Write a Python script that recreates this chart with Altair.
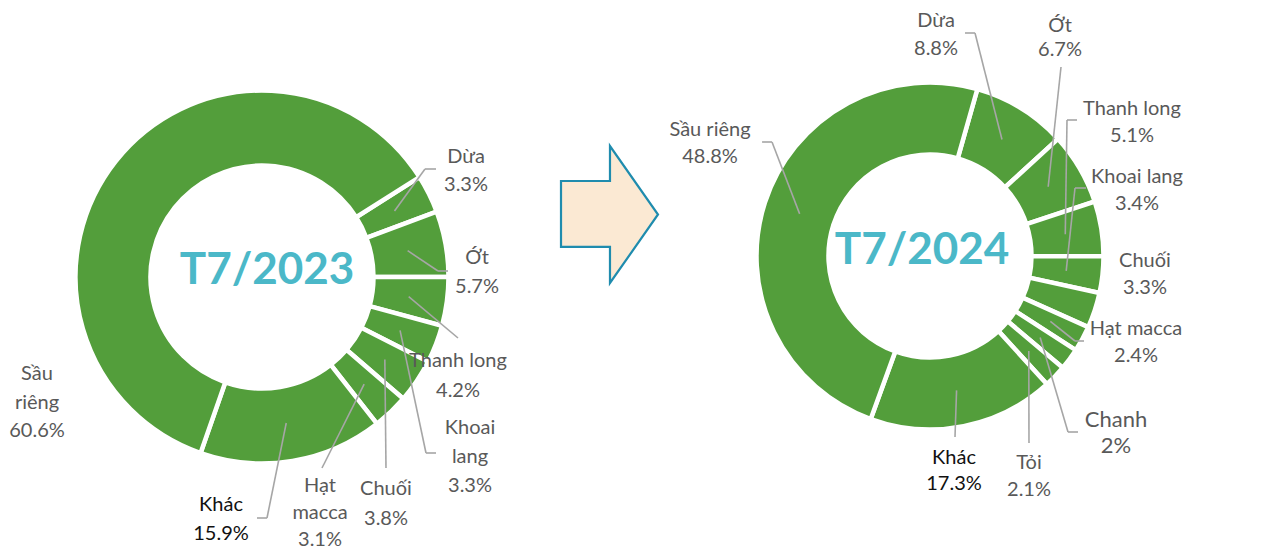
import math
import altair as alt
import pandas as pd

# ---------------- data ----------------
cats_2023 = ["Dừa", "Ớt", "Thanh long", "Khoai lang", "Chuối", "Hạt macca", "Khác", "Sầu riêng"]
vals_2023 = [3.3, 5.7, 4.2, 3.3, 3.8, 3.1, 15.9, 60.6]
name_lines_2023 = [["Dừa"], ["Ớt"], ["Thanh long"], ["Khoai", "lang"], ["Chuối"],
                   ["Hạt", "macca"], ["Khác"], ["Sầu", "riêng"]]

cats_2024 = ["Dừa", "Ớt", "Thanh long", "Khoai lang", "Chuối", "Hạt macca", "Chanh", "Tỏi", "Khác", "Sầu riêng"]
vals_2024 = [8.8, 6.7, 5.1, 3.4, 3.3, 2.4, 2.0, 2.1, 17.3, 48.8]
name_lines_2024 = [["Dừa"], ["Ớt"], ["Thanh long"], ["Khoai lang"], ["Chuối"],
                   ["Hạt macca"], ["Chanh"], ["Tỏi"], ["Khác"], ["Sầu riêng"]]

titles = ["T7/2023", "T7/2024"]

# ---------------- layout (page pixels) ----------------
OFF = 8
W, H = 1246, 544
GREEN = "#539E3B"
TEAL = "#4BB8C8"
GREY_TXT = "#595959"
GREY_LINE = "#A6A6A6"
FONT = "Lato"
FS = 20

donuts = [
    dict(cx=262, cy=277, r_out=186.5, r_in=111.5, r_mid=148, start_deg=57.6,
         title_xy=(267, 271)),
    dict(cx=930, cy=256, r_out=173.5, r_in=101.5, r_mid=137, start_deg=15.84,
         title_xy=(922, 251)),
]

# label layout: text x, first line y, line step, elbow (ex,ey), end (hx,hy), font size
lab_2023 = {
    "Dừa": (466, 157, 28, (425, 169), (436, 169), FS),
    "Ớt": (477, 258, 29, (438, 271), (448, 271), FS),
    "Thanh long": (458, 361, 30, (458, 338), None, FS),
    "Khoai lang": (470, 428, 29, (426, 453), (436, 453), FS),
    "Chuối": (386, 489, 30, (386, 468), None, FS),
    "Hạt macca": (320, 486, 27, (322, 468), None, FS),
    "Khác": (221, 505, 28.5, (267, 518), (257, 518), FS),
    "Sầu riêng": (37, 374, 28.5, None, None, FS),
}
lab_2024 = {
    "Dừa": (936, 21, 28, (975, 33), (965, 33), FS),
    "Ớt": (1060, 26, 24, (1061, 67), None, FS),
    "Thanh long": (1132, 109, 27, (1067, 120), (1077, 120), FS),
    "Khoai lang": (1137, 177, 27, (1075, 188), (1086, 188), FS),
    "Chuối": (1145, 261, 27, None, None, FS),
    "Hạt macca": (1136, 329, 27, (1075, 341), (1084, 341), FS),
    "Chanh": (1116, 420, 26, (1068, 432), (1078, 432), 22),
    "Tỏi": (1029, 463, 27, (1029, 443), None, FS),
    "Khác": (954, 458, 26, (955, 437), None, FS),
    "Sầu riêng": (710, 130, 27, (772, 142), (762, 142), FS),
}


def pct(v):
    s = f"{v:.1f}"
    if s.endswith(".0"):
        s = s[:-2]
    return s + "%"


layers = []
sets = [(cats_2023, vals_2023, name_lines_2023, lab_2023),
        (cats_2024, vals_2024, name_lines_2024, lab_2024)]

for (cats, vals, names, lab), d, title in zip(sets, donuts, titles):
    cx, cy = d["cx"] - OFF, d["cy"] - OFF
    a0 = math.radians(d["start_deg"])

    slices = pd.DataFrame({"cat": cats, "value": vals, "order": list(range(len(cats)))})

    arcs = alt.Chart(slices).mark_arc(
        stroke="white", strokeWidth=4.5, color=GREEN,
        radius=d["r_out"], radius2=d["r_in"]
    ).encode(
        x=alt.value(cx), y=alt.value(cy),
        theta=alt.Theta("value:Q", stack=True,
                        scale=alt.Scale(range=[a0, a0 + 2 * math.pi])),
        order=alt.Order("order:Q"),
    )
    layers.append(arcs)

    # leader lines
    rows = []
    for c in cats:
        tx, ty, step, elbow, end, fs = lab[c]
        has = elbow is not None
        ex, ey = (elbow if has else (0, 0))
        hx, hy = (end if end is not None else (ex, ey))
        rows.append(dict(cat=c, has=has, ex=ex - OFF, ey=ey - OFF, hx=hx - OFF, hy=hy - OFF))
    lead = slices.merge(pd.DataFrame(rows), on="cat")

    base = alt.Chart(lead).transform_joinaggregate(
        total="sum(value)"
    ).transform_window(
        cum="sum(value)", sort=[alt.SortField("order")], frame=[None, 0]
    ).transform_calculate(
        mid=f"{a0} + 2*PI*(datum.cum - datum.value/2)/datum.total"
    ).transform_calculate(
        ax=f"{cx} + {d['r_mid']}*sin(datum.mid)",
        ay=f"{cy} - {d['r_mid']}*cos(datum.mid)",
    ).transform_filter("datum.has")

    seg1 = base.mark_rule(color=GREY_LINE, strokeWidth=1.6).encode(
        x=alt.X("ax:Q", scale=None), y=alt.Y("ay:Q", scale=None),
        x2="ex:Q", y2="ey:Q",
    )
    seg2 = base.mark_rule(color=GREY_LINE, strokeWidth=1.6).encode(
        x=alt.X("ex:Q", scale=None), y=alt.Y("ey:Q", scale=None),
        x2="hx:Q", y2="hy:Q",
    )
    layers += [seg1, seg2]

    # labels (one row per text line)
    trows = []
    for c, v, nl in zip(cats, vals, names):
        tx, ty, step, elbow, end, fs = lab[c]
        lines = nl + [pct(v)]
        for i, t in enumerate(lines):
            trows.append(dict(text=t, x=tx - OFF, y=ty - OFF + i * step, size=fs,
                              color="#111111" if c == "Khác" else GREY_TXT))
    tdf = pd.DataFrame(trows)
    texts = alt.Chart(tdf).mark_text(
        font=FONT, align="center", baseline="middle"
    ).encode(
        x=alt.X("x:Q", scale=None), y=alt.Y("y:Q", scale=None),
        text="text:N",
        size=alt.Size("size:Q", scale=None),
        color=alt.Color("color:N", scale=None),
    )
    layers.append(texts)

    tdf2 = pd.DataFrame({"t": [title]})
    center = alt.Chart(tdf2).mark_text(
        font=FONT, fontWeight="bold", fontSize=44, color=TEAL,
        align="center", baseline="middle"
    ).encode(
        x=alt.value(d["title_xy"][0] - OFF), y=alt.value(d["title_xy"][1] - OFF),
        text="t:N",
    )
    layers.append(center)

# arrow shape between the donuts
arrow_path = ("M-0.708,-0.489 L0.007,-0.489 L0.007,-1 L0.708,0 L0.007,1 "
              "L0.007,0.474 L-0.708,0.474 Z")
arrow = alt.Chart(pd.DataFrame({"a": [1]})).mark_point(
    shape=arrow_path, size=137 ** 2, filled=True, fill="#FBE9D3",
    stroke="#1F8CAE", strokeWidth=2.2, opacity=1
).encode(x=alt.value(609.5 - OFF), y=alt.value(214.5 - OFF))
layers.insert(0, arrow)

chart = alt.layer(*layers).resolve_scale(theta="independent").properties(
    width=W, height=H, padding=0,
    autosize=alt.AutoSizeParams(type="none"),
).configure_view(stroke=None)

chart.save("out.html", embed_options={"renderer": "svg", "actions": False})
